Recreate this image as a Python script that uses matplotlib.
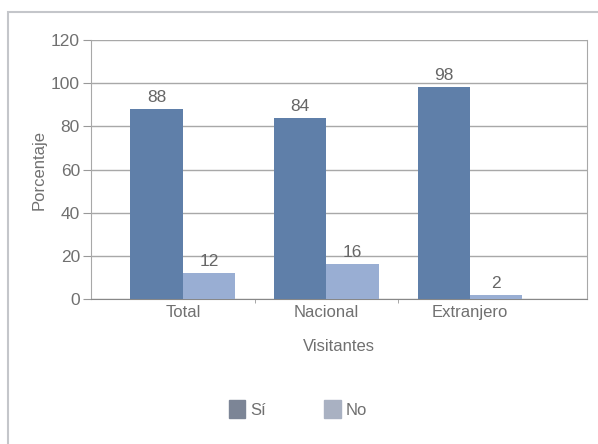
import numpy as np
import matplotlib.pyplot as plt
from matplotlib.patches import Rectangle, Patch

categorias = ['Total', 'Nacional', 'Extranjero']
si = [88, 84, 98]
no = [12, 16, 2]
yticks = [0, 20, 40, 60, 80, 100, 120]

gris = '#707070'
c_si = '#5f7fa9'
c_no = '#99aed3'

plt.rcParams['font.family'] = ['Liberation Sans', 'DejaVu Sans']

fig = plt.figure(figsize=(5.98, 4.44), dpi=100)
fig.patches.append(Rectangle((8/598, -0.1), 1.2, 1 - 12/444 + 0.1,
                             transform=fig.transFigure, fill=False,
                             edgecolor='#c4c6ca', lw=1.5))

ax = fig.add_axes([91/598, 1 - 299/444, 496/598, 259/444])
x = np.arange(len(categorias))
w = 0.365
b1 = ax.bar(x - w/2, si, w, color=c_si, zorder=3)
b2 = ax.bar(x + w/2, no, w, color=c_no, zorder=3)
for bars, vals in ((b1, si), (b2, no)):
    for r, v in zip(bars, vals):
        ax.annotate(str(v), (r.get_x() + r.get_width()/2, v), xytext=(0, 3),
                    textcoords='offset points', ha='center', va='bottom',
                    fontsize=12.5, color='#666666')

ax.set_ylim(0, 120)
ax.set_xlim(-0.64, 2.815)
ax.set_yticks(yticks)
ax.yaxis.grid(True, color='#a8a8a8', lw=1, zorder=0)
ax.set_xticks(x)
ax.set_xticklabels(categorias)
ax.set_xticks([0.5, 1.5], minor=True)
ax.tick_params(axis='x', which='major', length=0, labelsize=12, labelcolor=gris, pad=4)
ax.tick_params(axis='x', which='minor', length=3, color='#999999')
ax.tick_params(axis='y', length=6, color='#999999', labelsize=12.5, labelcolor=gris, pad=2)
for s in ax.spines.values():
    s.set_color('#a8a8a8')
ax.spines['top'].set_visible(False)
ax.spines['bottom'].set_color('#888888')

ax.set_ylabel('Porcentaje', fontsize=12, color=gris, labelpad=3)
ax.set_xlabel('Visitantes', fontsize=12, color=gris, labelpad=14)

handles = [Patch(color='#7c8596', label='Sí'), Patch(color='#a9b1c2', label='No')]
fig.legend(handles=handles, loc='center', bbox_to_anchor=(298/598, 1 - 409/444),
           ncol=2, frameon=False, fontsize=12, labelcolor=gris,
           handlelength=1.0, handleheight=1.2, handletextpad=0.3, columnspacing=3.5)

plt.savefig('out.png', dpi=100)
